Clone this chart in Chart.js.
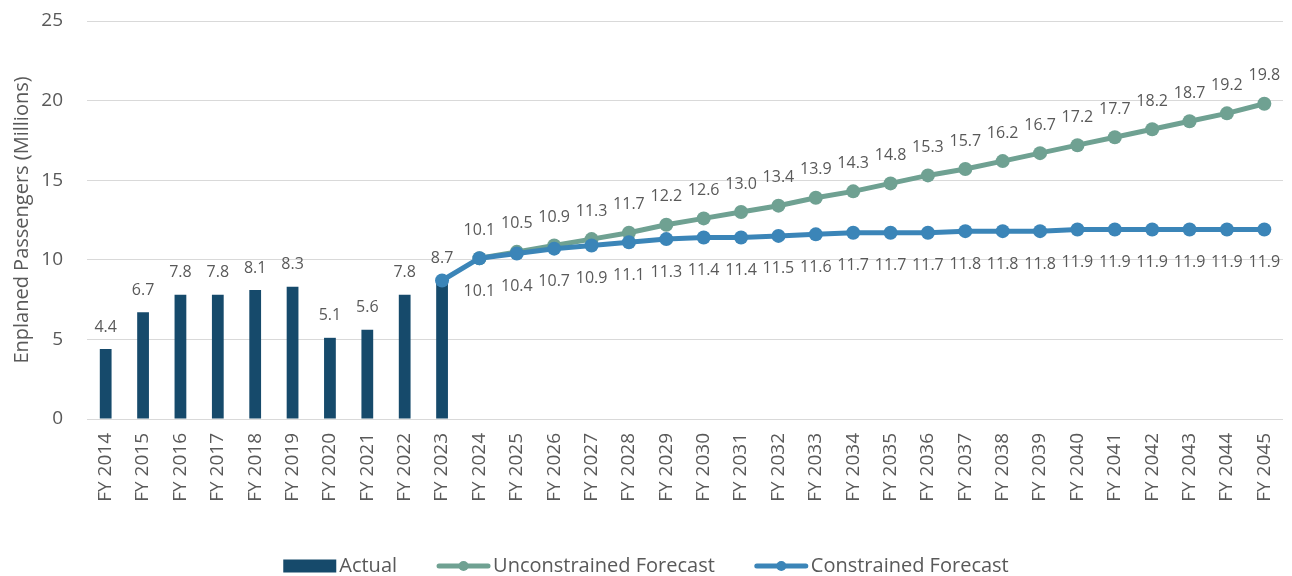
<!DOCTYPE html>
<html>
<head>
<meta charset="utf-8">
<script src="https://cdn.jsdelivr.net/npm/chart.js@4.4.1/dist/chart.umd.min.js"></script>
<style>
  html, body { margin: 0; padding: 0; background: #ffffff; }
  #wrap { width: 1292px; height: 576px; position: relative; }
</style>
</head>
<body>
<div id="wrap"><canvas id="c" width="1292" height="576"></canvas></div>
<script>
const categories = ["FY 2014","FY 2015","FY 2016","FY 2017","FY 2018","FY 2019","FY 2020","FY 2021","FY 2022","FY 2023",
  "FY 2024","FY 2025","FY 2026","FY 2027","FY 2028","FY 2029","FY 2030","FY 2031","FY 2032","FY 2033","FY 2034",
  "FY 2035","FY 2036","FY 2037","FY 2038","FY 2039","FY 2040","FY 2041","FY 2042","FY 2043","FY 2044","FY 2045"];

const actual = [4.4, 6.7, 7.8, 7.8, 8.1, 8.3, 5.1, 5.6, 7.8, 8.7,
  null, null, null, null, null, null, null, null, null, null, null,
  null, null, null, null, null, null, null, null, null, null, null];

const unconstrained = [null, null, null, null, null, null, null, null, null, null,
  10.1, 10.5, 10.9, 11.3, 11.7, 12.2, 12.6, 13.0, 13.4, 13.9, 14.3,
  14.8, 15.3, 15.7, 16.2, 16.7, 17.2, 17.7, 18.2, 18.7, 19.2, 19.8];

const constrained = [null, null, null, null, null, null, null, null, null, 8.7,
  10.1, 10.4, 10.7, 10.9, 11.1, 11.3, 11.4, 11.4, 11.5, 11.6, 11.7,
  11.7, 11.7, 11.8, 11.8, 11.8, 11.9, 11.9, 11.9, 11.9, 11.9, 11.9];

const yTicks = [0, 5, 10, 15, 20, 25];
const seriesNames = ["Actual", "Unconstrained Forecast", "Constrained Forecast"];

const FONT = "'Open Sans', 'Noto Sans', sans-serif";
const TEXT = "#595959";
const C_BAR = "#164a6b";
const C_GREEN = "#6fa192";
const C_BLUE = "#3b85b8";

const labelPlugin = {
  id: 'valueLabels',
  afterDatasetsDraw(chart) {
    const ctx = chart.ctx;
    ctx.save();
    ctx.font = "16px " + FONT;
    ctx.fillStyle = TEXT;
    ctx.textAlign = 'center';
    ctx.textBaseline = 'middle';
    chart.data.datasets.forEach((ds, di) => {
      const meta = chart.getDatasetMeta(di);
      const cfg = ds.labelCfg;
      meta.data.forEach((el, i) => {
        const v = ds.data[i];
        if (v === null || v === undefined) return;
        if (cfg.skip && cfg.skip.includes(i)) return;
        ctx.fillText(v.toFixed(1), el.x, el.y + cfg.dy);
      });
    });
    ctx.restore();
  }
};

const legendPlugin = {
  id: 'customLegend',
  afterDraw(chart) {
    const ctx = chart.ctx;
    ctx.save();
    ctx.font = "20px " + FONT;
    ctx.textBaseline = 'middle';
    ctx.textAlign = 'left';
    const sym = 53, gapT = 3, gapI = 40;
    const ds = chart.data.datasets;
    const widths = ds.map(d => ctx.measureText(d.label).width);
    let total = 0;
    widths.forEach((w, i) => { total += sym + gapT + w; if (i < widths.length - 1) total += gapI; });
    let x = chart.width / 2 - total / 2;
    const y = 566;
    ds.forEach((d, i) => {
      if (d.type === 'bar') {
        ctx.fillStyle = d.backgroundColor;
        ctx.fillRect(x, y - 6.5, sym, 13);
      } else {
        ctx.strokeStyle = d.borderColor;
        ctx.lineWidth = 5;
        ctx.lineCap = 'round';
        ctx.beginPath();
        ctx.moveTo(x + 2, y);
        ctx.lineTo(x + sym - 2, y);
        ctx.stroke();
        ctx.fillStyle = d.borderColor;
        ctx.beginPath();
        ctx.arc(x + sym / 2, y, 5, 0, Math.PI * 2);
        ctx.fill();
      }
      ctx.fillStyle = TEXT;
      ctx.fillText(d.label, x + sym + gapT, y);
      x += sym + gapT + widths[i] + gapI;
    });
    ctx.restore();
  }
};

new Chart(document.getElementById('c'), {
  type: 'bar',
  data: {
    labels: categories,
    datasets: [
      {
        type: 'bar', label: seriesNames[0], data: actual,
        backgroundColor: C_BAR, barPercentage: 0.315, categoryPercentage: 1.0,
        order: 3, labelCfg: { dy: -22 }
      },
      {
        type: 'line', label: seriesNames[1], data: unconstrained,
        borderColor: C_GREEN, backgroundColor: C_GREEN, borderWidth: 5,
        pointRadius: 7, pointBackgroundColor: C_GREEN, pointBorderWidth: 0,
        spanGaps: false, order: 2, labelCfg: { dy: -28 }
      },
      {
        type: 'line', label: seriesNames[2], data: constrained,
        borderColor: C_BLUE, backgroundColor: C_BLUE, borderWidth: 5,
        pointRadius: 7, pointBackgroundColor: C_BLUE, pointBorderWidth: 0,
        spanGaps: false, order: 1, labelCfg: { dy: 33, skip: [9] }
      }
    ]
  },
  options: {
    responsive: false,
    animation: false,
    layout: { padding: { top: 21, right: 9, bottom: 40, left: 0 } },
    plugins: {
      legend: { display: false },
      tooltip: { enabled: false }
    },
    scales: {
      x: {
        grid: { display: false, drawTicks: false },
        border: { display: false },
        ticks: {
          color: TEXT, font: { family: FONT, size: 19 },
          minRotation: 90, maxRotation: 90, padding: 14, autoSkip: false
        },
        afterFit(scale) { scale.height = 117; scale.paddingLeft = 0; scale.paddingRight = 0; }
      },
      y: {
        min: 0, max: 25,
        afterBuildTicks(scale) { scale.ticks = yTicks.map(v => ({ value: v })); },
        grid: { color: '#d9d9d9', lineWidth: 1, drawTicks: false },
        border: { display: false },
        ticks: { color: TEXT, font: { family: FONT, size: 19 }, padding: 24 },
        title: {
          display: true, text: 'Enplaned Passengers (Millions)',
          color: TEXT, font: { family: FONT, size: 20 }, padding: { top: 10, bottom: 0 }
        },
        afterFit(scale) { scale.width = 87; scale.paddingTop = 0; scale.paddingBottom = 0; }
      }
    }
  },
  plugins: [labelPlugin, legendPlugin]
});
</script>
</body>
</html>
